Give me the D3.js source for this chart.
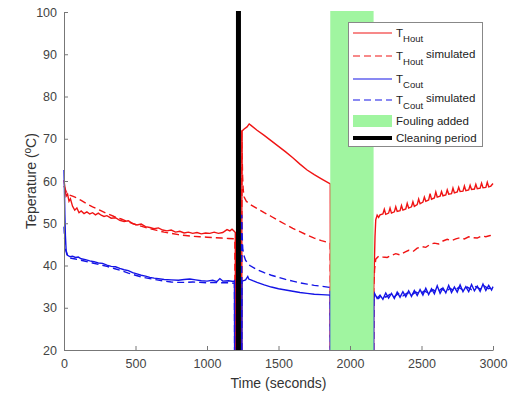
<!DOCTYPE html>
<html lang="en">
<head>
    <meta charset="UTF-8">
    <title>Heat exchanger temperatures</title>
    <script src="https://d3js.org/d3.v7.min.js"></script>
    <style>
        body { margin: 0; background: #fff; }
        svg { font-family: "Liberation Sans", Arial, sans-serif; }
    </style>
</head>
<body>
    <div id="chart"></div>

    <script>
        // Hot outlet, measured (null = gap in the record)
        const houtTime = [0, 8, 15, 25, 35, 45, 60, 75, 90, 105, 120, 140, 160, 180, 200, 220, 240, 260, 280, 300,
            330, 360, 390, 420, 450, 480, 510, 540, 570, 600, 630, 660, 690, 720, 750, 780, 810, 840, 870, 900,
            930, 960, 990, 1020, 1050, 1080, 1110, 1140, 1160, 1175, 1190, 1198, 1199, 1220,
            1243, 1244, 1260, 1280, 1295, 1310, 1350, 1400, 1450, 1500, 1550, 1600, 1650, 1700, 1750, 1800, 1862, 1863, 2000,
            2165, 2166, 2170, 2175, 2180, 2190, 2200, 2210, 2230, 2240, 2250, 2270, 2280, 2290, 2310, 2320, 2330,
            2350, 2360, 2370, 2390, 2400, 2410, 2430, 2440, 2450, 2470, 2480, 2490, 2510, 2520, 2530, 2550, 2560,
            2570, 2590, 2600, 2610, 2630, 2640, 2650, 2670, 2680, 2690, 2710, 2720, 2730, 2750, 2760, 2770, 2790,
            2800, 2810, 2830, 2840, 2850, 2870, 2880, 2890, 2910, 2920, 2930, 2950, 2960, 2970, 2985, 3000];
        const houtMeas = [60.2, 58.0, 56.4, 56.9, 55.2, 55.8, 54.0, 53.1, 53.6, 52.5, 52.9, 52.3, 52.7, 52.2, 52.5, 52.0, 52.4, 51.9, 51.6, 51.8,
            51.2, 51.3, 50.7, 50.4, 50.6, 49.9, 49.6, 49.8, 49.2, 49.0, 48.7, 48.9, 48.4, 48.2, 48.4, 47.9, 48.1, 47.7, 47.9, 47.6,
            47.8, 47.5, 47.7, 47.6, 47.9, 47.6, 47.8, 48.5, 48.2, 48.6, 48.1, 47.8, 20, null,
            20, 71.8, 72.3, 72.8, 73.5, 73.1, 72.0, 70.8, 69.5, 68.2, 66.9, 65.5, 64.0, 62.6, 61.5, 60.5, 59.3, 20, null,
            20, 34.5, 40, 47, 50.8, 51.9, 51.4, 52.0, 52.2, 53.3, 52.1, 52.4, 53.6, 52.4, 52.7, 53.9, 52.8,
            53.0, 54.2, 53.1, 53.4, 54.7, 53.6, 53.9, 55.1, 54.0, 54.4, 55.7, 54.6, 55.0, 56.2, 55.2, 55.5, 57.0,
            55.7, 56.0, 57.4, 56.2, 56.4, 57.5, 56.5, 56.7, 57.9, 56.9, 57.0, 58.3, 57.2, 57.4, 58.5, 57.5, 57.6,
            58.8, 57.7, 57.9, 59.0, 58.0, 58.1, 59.2, 58.2, 58.3, 59.5, 58.4, 58.5, 59.7, 58.6, 58.8, 59.4];

        // Hot outlet, simulated
        const houtSimTime = [0, 15, 30, 60, 90, 120, 160, 200, 250, 300, 350, 400, 450, 500, 550, 600, 650, 700, 750, 800,
            850, 900, 950, 1000, 1050, 1100, 1150, 1195, 1196, 1220,
            1243, 1244, 1246, 1249, 1253, 1260, 1275, 1300, 1350, 1400, 1450, 1500, 1550, 1600, 1650, 1700, 1750, 1800, 1862, 1863, 2000,
            2165, 2166, 2172, 2180, 2200, 2230, 2260, 2290, 2320, 2350, 2380, 2410, 2440, 2470, 2500, 2530, 2560,
            2590, 2620, 2650, 2680, 2710, 2740, 2770, 2800, 2830, 2860, 2890, 2920, 2950, 2980, 3000];
        const houtSim = [58.8, 57.5, 56.8, 56.4, 56.0, 55.4, 54.6, 53.9, 53.1, 52.3, 51.6, 51.0, 50.3, 49.7, 49.2, 48.7, 48.3, 47.9, 47.6, 47.3,
            47.1, 46.9, 46.8, 46.7, 46.6, 46.5, 46.4, 46.3, 20, null,
            20, 72, 66, 61, 58, 56.2, 55.2, 54.5, 53.5, 52.5, 51.6, 50.6, 49.7, 48.8, 48.0, 47.2, 46.5, 45.9, 45.3, 20, null,
            20, 35, 39, 41.5, 42.2, 42.0, 41.9, 42.4, 42.8, 42.5, 43.1, 43.6, 43.3, 44.1, 44.5, 44.3, 45.0,
            45.3, 45.1, 45.8, 46.2, 45.9, 46.3, 46.6, 46.3, 46.8, 46.6, 46.5, 47.0, 46.8, 47.1, 47.0];

        // Cold outlet, measured
        const coutTime = [0, 3, 6, 10, 15, 25, 40, 60, 80, 100, 120, 150, 180, 210, 240, 270, 300, 330, 360, 390,
            420, 450, 480, 510, 540, 570, 600, 630, 660, 700, 750, 800, 840, 880, 920, 960, 1000, 1040, 1070, 1090,
            1110, 1150, 1185, 1192, 1193, 1220,
            1244, 1245, 1270, 1285, 1292, 1320, 1350, 1400, 1450, 1500, 1550, 1600, 1650, 1700, 1750, 1800, 1862, 1863, 2000,
            2165, 2166, 2172, 2190, 2210, 2230, 2250, 2270, 2290, 2310, 2330, 2350, 2370, 2390, 2410, 2430, 2450,
            2470, 2490, 2510, 2530, 2550, 2570, 2590, 2610, 2630, 2650, 2670, 2690, 2710, 2730, 2750, 2770, 2790,
            2810, 2830, 2850, 2870, 2890, 2910, 2930, 2950, 2970, 2990, 3000];
        const coutMeas = [62.6, 58, 52, 47, 43.5, 42.4, 42.1, 42.2, 41.9, 42.0, 41.6, 41.4, 41.1, 40.9, 40.6, 40.5, 40.1, 39.8, 39.7, 39.3,
            39.0, 38.8, 38.3, 38.0, 37.7, 37.5, 37.2, 37.0, 36.9, 36.7, 36.6, 36.5, 36.7, 36.8, 36.6, 36.4, 36.3, 36.5, 36.2, 36.9,
            36.3, 36.4, 36.2, 36.4, 20, null,
            20, 36.3, 36.6, 37.4, 36.8, 36.4, 36.0, 35.4, 34.9, 34.5, 34.2, 33.9, 33.6, 33.4, 33.2, 33.1, 33.0, 20, null,
            20, 31.5, 33.4, 32.2, 33.0, 32.0, 33.5, 32.3, 33.4, 32.2, 33.7, 32.5, 33.8, 32.6, 34.0, 32.7, 34.1,
            32.9, 34.3, 33.0, 34.6, 33.1, 34.5, 33.3, 35.2, 33.4, 34.7, 33.5, 35.3, 33.6, 34.9, 33.7, 35.4, 33.8,
            35.0, 33.8, 35.5, 34.0, 35.1, 33.9, 35.6, 34.1, 35.3, 34.2, 35.0];

        // Cold outlet, simulated
        const coutSimTime = [0, 4, 10, 20, 40, 70, 100, 150, 200, 250, 300, 350, 400, 450, 500, 550, 600, 650, 700, 750,
            800, 850, 900, 950, 1000, 1050, 1100, 1150, 1192, 1193, 1220,
            1242, 1243, 1246, 1250, 1258, 1270, 1300, 1350, 1400, 1450, 1500, 1550, 1600, 1650, 1700, 1750, 1800, 1862, 1863, 2000,
            2165, 2166, 2180, 2200, 2220, 2250, 2280, 2310, 2340, 2370, 2400, 2430, 2460, 2490, 2520, 2550, 2580,
            2610, 2640, 2670, 2700, 2730, 2760, 2790, 2820, 2850, 2880, 2910, 2940, 2970, 3000];
        const coutSim = [49.2, 46.5, 44.0, 42.6, 41.8, 41.6, 41.4, 41.0, 40.6, 40.2, 39.8, 39.3, 38.8, 38.2, 37.7, 37.2, 36.9, 36.6, 36.3, 36.1,
            36.0, 36.0, 36.1, 36.0, 35.9, 36.0, 35.9, 35.9, 35.8, 20, null,
            20, 52, 47, 44, 42.4, 41.2, 40.0, 39.0, 38.3, 37.7, 37.2, 36.7, 36.3, 35.9, 35.6, 35.3, 35.1, 34.8, 20, null,
            20, 32, 32.8, 32.2, 33.0, 32.5, 33.2, 32.6, 33.4, 32.8, 33.5, 33.0, 33.7, 33.2, 34.0, 33.4, 34.3,
            33.6, 34.5, 33.8, 34.6, 34.0, 34.8, 34.2, 34.9, 34.3, 35.0, 34.4, 35.1, 34.5, 35.0];

        // Events
        const foulingPeriod = [1862, 2165];
        const cleaningTime = 1220;

        const xTicks = [0, 500, 1000, 1500, 2000, 2500, 3000];
        const yTicks = [20, 30, 40, 50, 60, 70, 80, 90, 100];

        const W = 511, H = 394;
        const margin = { top: 12, right: 18, bottom: 44, left: 64 };
        const width = W - margin.left - margin.right;
        const height = H - margin.top - margin.bottom;

        const svg = d3.select('#chart').append('svg')
            .attr('width', W)
            .attr('height', H);

        const g = svg.append('g')
            .attr('transform', `translate(${margin.left},${margin.top})`);

        const x = d3.scaleLinear().domain([0, 3000]).range([0, width]);
        const y = d3.scaleLinear().domain([20, 100]).range([height, 0]);

        const line = d3.line()
            .defined(d => d[1] !== null)
            .x(d => x(d[0]))
            .y(d => y(d[1]));

        const zip = (ts, vs) => ts.map((t, i) => [t, vs[i]]);

        // series: red first, blue drawn over
        const series = [
            { data: zip(houtTime, houtMeas), color: '#f01414', dash: null },
            { data: zip(houtSimTime, houtSim), color: '#f01414', dash: '7,4' },
            { data: zip(coutTime, coutMeas), color: '#1414e6', dash: null },
            { data: zip(coutSimTime, coutSim), color: '#1414e6', dash: '7,4' }
        ];

        series.forEach(s => {
            g.append('path')
                .datum(s.data)
                .attr('d', line)
                .attr('fill', 'none')
                .attr('stroke', s.color)
                .attr('stroke-width', 1.4)
                .attr('stroke-dasharray', s.dash);
        });

        // Fouling patch
        g.append('rect')
            .attr('x', x(foulingPeriod[0]))
            .attr('y', y(100) - 1)
            .attr('width', x(foulingPeriod[1]) - x(foulingPeriod[0]))
            .attr('height', y(20) - y(100) + 1)
            .attr('fill', '#a0f5a0');

        // Cleaning period
        g.append('line')
            .attr('x1', x(cleaningTime)).attr('x2', x(cleaningTime))
            .attr('y1', y(100) - 1).attr('y2', y(20))
            .attr('stroke', '#000')
            .attr('stroke-width', 5);

        // Axes (ticks inward, no box)
        const fmt = d3.format('d');
        const xAxis = g.append('g')
            .attr('transform', `translate(0,${height})`)
            .call(d3.axisBottom(x).tickValues(xTicks).tickFormat(fmt).tickSizeInner(-4).tickSizeOuter(0).tickPadding(9));
        const yAxis = g.append('g')
            .call(d3.axisLeft(y).tickValues(yTicks).tickFormat(fmt).tickSizeInner(-4).tickSizeOuter(0).tickPadding(7));

        [xAxis, yAxis].forEach(a => {
            a.select('.domain').attr('stroke', '#777');
            a.selectAll('.tick line').attr('stroke', '#777');
            a.selectAll('.tick text')
                .attr('fill', '#444')
                .style('font-size', '12.5px')
                .style('font-family', '"Liberation Sans", Arial, sans-serif');
        });

        // Axis labels
        svg.append('text')
            .attr('x', margin.left + width / 2)
            .attr('y', 388)
            .attr('text-anchor', 'middle')
            .attr('fill', '#333')
            .style('font-size', '14px')
            .text('Time (seconds)');

        const yLab = svg.append('text')
            .attr('transform', `translate(36,${margin.top + height / 2}) rotate(-90)`)
            .attr('text-anchor', 'middle')
            .attr('fill', '#333')
            .style('font-size', '14px');
        yLab.append('tspan').text('Teperature (');
        yLab.append('tspan').attr('dy', -5).style('font-size', '10px').text('o');
        yLab.append('tspan').attr('dy', 5).text('C)');

        // Legend
        const legendItems = [
            { main: 'T', sub: 'Hout', tail: '', kind: 'line', color: '#f01414', dash: null },
            { main: 'T', sub: 'Hout', tail: 'simulated', kind: 'line', color: '#f01414', dash: '7,4' },
            { main: 'T', sub: 'Cout', tail: '', kind: 'line', color: '#1414e6', dash: null },
            { main: 'T', sub: 'Cout', tail: 'simulated', kind: 'line', color: '#1414e6', dash: '7,4' },
            { main: 'Fouling added', sub: '', tail: '', kind: 'patch', color: '#a0f5a0' },
            { main: 'Cleaning period', sub: '', tail: '', kind: 'thick', color: '#000' }
        ];
        const rowY = [33, 56, 79, 100, 121, 138];

        const leg = svg.append('g');
        leg.append('rect')
            .attr('x', 348.5).attr('y', 22.5)
            .attr('width', 134).attr('height', 124)
            .attr('fill', '#fff')
            .attr('stroke', '#888')
            .attr('stroke-width', 1);

        legendItems.forEach((d, i) => {
            const cy = rowY[i];
            if (d.kind === 'patch') {
                leg.append('rect')
                    .attr('x', 353).attr('y', cy - 6)
                    .attr('width', 39).attr('height', 12)
                    .attr('fill', d.color);
            } else {
                leg.append('line')
                    .attr('x1', 353).attr('x2', 392)
                    .attr('y1', cy).attr('y2', cy)
                    .attr('stroke', d.color)
                    .attr('stroke-width', d.kind === 'thick' ? 4 : 1.2)
                    .attr('stroke-dasharray', d.dash);
            }
            const t = leg.append('text')
                .attr('x', 396)
                .attr('y', cy + 4)
                .attr('fill', '#222')
                .style('font-size', '11.5px');
            t.append('tspan').text(d.main);
            if (d.sub) {
                t.append('tspan').attr('dy', 5).style('font-size', '9.5px').text(d.sub);
            }
            if (d.tail) {
                t.append('tspan').attr('dy', -7).attr('dx', 3).text(d.tail);
            }
        });
    </script>
</body>
</html>
